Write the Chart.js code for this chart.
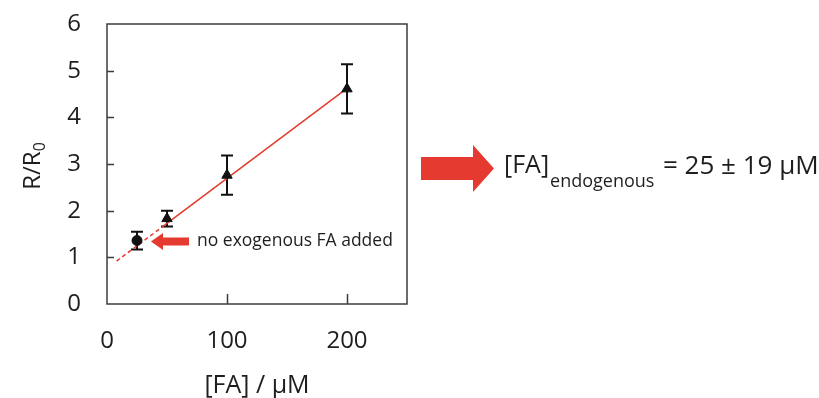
<!DOCTYPE html>
<html>
<head>
<meta charset="utf-8">
<script src="https://cdn.jsdelivr.net/npm/chart.js@4"></script>
<style>
  html, body { margin: 0; padding: 0; background: #fff; }
  #chart { display: block; }
</style>
</head>
<body>
<canvas id="chart" width="819" height="398"></canvas>
<script>
// measured points (R/R0 vs added FA)
const faConc = [25, 50, 100, 200];
const ratio = [1.36, 1.83, 2.76, 4.61];
const ratioErr = [0.19, 0.17, 0.42, 0.53];
const markerStyles = ["circle", "triangle", "triangle", "triangle"];
const markerSizes = [5, 6, 6, 6];

// linear fit, dashed part extrapolated below the lowest point
const fitX = [8, 48, 200];
const fitY = [0.92, 1.69, 4.62];

const xTickValues = [0, 100, 200];
const yTickValues = [0, 1, 2, 3, 4, 5, 6];

const FONT = "'Open Sans', 'Liberation Sans', sans-serif";
const TEXT = "#1e1e1e";
const RED = "#e53a2f";
const FRAME = "#3c3c3c";

const annotations = {
  id: "annotations",
  beforeDatasetsDraw(chart) {
    const { ctx } = chart;
    const xs = chart.scales.x, ys = chart.scales.y;
    // error bars
    ctx.save();
    ctx.strokeStyle = "#111";
    ctx.lineWidth = 2;
    faConc.forEach((x, i) => {
      const px = xs.getPixelForValue(x);
      const top = ys.getPixelForValue(ratio[i] + ratioErr[i]);
      const bot = ys.getPixelForValue(ratio[i] - ratioErr[i]);
      ctx.beginPath();
      ctx.moveTo(px, top); ctx.lineTo(px, bot);
      ctx.moveTo(px - 6, top); ctx.lineTo(px + 6, top);
      ctx.moveTo(px - 6, bot); ctx.lineTo(px + 6, bot);
      ctx.stroke();
    });
    ctx.restore();
  },
  afterDraw(chart) {
    const { ctx, chartArea: a } = chart;
    const xs = chart.scales.x, ys = chart.scales.y;
    ctx.save();

    // frame + inner ticks
    ctx.strokeStyle = FRAME;
    ctx.lineWidth = 1.5;
    ctx.strokeRect(a.left, a.top, a.right - a.left, a.bottom - a.top);
    ctx.beginPath();
    yTickValues.slice(1, -1).forEach(v => {
      const py = Math.round(ys.getPixelForValue(v)) + 0.5;
      ctx.moveTo(a.left, py); ctx.lineTo(a.left + 7, py);
    });
    xTickValues.slice(1).forEach(v => {
      const px = Math.round(xs.getPixelForValue(v)) + 0.5;
      ctx.moveTo(px, a.bottom); ctx.lineTo(px, a.bottom - 10);
    });
    ctx.stroke();

    ctx.fillStyle = TEXT;

    // x title
    ctx.font = `25px ${FONT}`;
    ctx.textAlign = "center";
    ctx.textBaseline = "alphabetic";
    ctx.fillText("[FA] / μM", (a.left + a.right) / 2, 393);

    // y title with subscript
    ctx.save();
    ctx.translate(40, 166);
    ctx.rotate(-Math.PI / 2);
    ctx.textAlign = "left";
    ctx.font = `24px ${FONT}`;
    const main = "R/R";
    const wMain = ctx.measureText(main).width;
    ctx.font = `16px ${FONT}`;
    const wSub = ctx.measureText("0").width;
    const start = -(wMain + wSub) / 2;
    ctx.font = `24px ${FONT}`;
    ctx.fillText(main, start, 0);
    ctx.font = `16px ${FONT}`;
    ctx.fillText("0", start + wMain, 5);
    ctx.restore();

    // small arrow pointing at the first point
    ctx.fillStyle = RED;
    ctx.beginPath();
    ctx.moveTo(151, 241.5);
    ctx.lineTo(163, 233);
    ctx.lineTo(163, 237.5);
    ctx.lineTo(189, 237.5);
    ctx.lineTo(189, 245.5);
    ctx.lineTo(163, 245.5);
    ctx.lineTo(163, 250);
    ctx.closePath();
    ctx.fill();
    ctx.fillStyle = TEXT;
    ctx.font = `17.5px ${FONT}`;
    ctx.textAlign = "left";
    ctx.textBaseline = "middle";
    ctx.fillText("no exogenous FA added", 197, 241);

    // big arrow + result
    ctx.fillStyle = RED;
    ctx.beginPath();
    ctx.moveTo(421, 157);
    ctx.lineTo(473, 157);
    ctx.lineTo(473, 145);
    ctx.lineTo(494, 168.5);
    ctx.lineTo(473, 192);
    ctx.lineTo(473, 180);
    ctx.lineTo(421, 180);
    ctx.closePath();
    ctx.fill();

    ctx.fillStyle = TEXT;
    ctx.textBaseline = "alphabetic";
    ctx.font = `25px ${FONT}`;
    ctx.fillText("[FA]", 504, 173);
    const wFA = ctx.measureText("[FA]").width;
    ctx.font = `18px ${FONT}`;
    ctx.fillText("endogenous", 504 + wFA + 1, 187);
    ctx.font = `26px ${FONT}`;
    ctx.fillText("= 25 ± 19 μM", 663, 174);

    ctx.restore();
  }
};

new Chart(document.getElementById("chart"), {
  type: "scatter",
  data: {
    datasets: [
      {
        label: "R/R0",
        data: faConc.map((x, i) => ({ x, y: ratio[i] })),
        pointStyle: markerStyles,
        pointRadius: markerSizes,
        pointBackgroundColor: "#111",
        pointBorderColor: "#111",
        pointBorderWidth: 1,
        showLine: false
      },
      {
        label: "fit",
        type: "line",
        data: fitX.map((x, i) => ({ x, y: fitY[i] })),
        borderColor: RED,
        borderWidth: 1.5,
        pointRadius: 0,
        fill: false,
        tension: 0,
        segment: {
          borderDash: c => (c.p0DataIndex === 0 ? [4, 3] : undefined)
        }
      }
    ]
  },
  options: {
    responsive: false,
    animation: false,
    devicePixelRatio: 1,
    layout: { padding: { left: 0, top: 24, right: 412, bottom: 0 } },
    plugins: { legend: { display: false }, tooltip: { enabled: false } },
    scales: {
      x: {
        type: "linear",
        min: 0,
        max: 250,
        afterBuildTicks: s => { s.ticks = xTickValues.map(v => ({ value: v })); },
        afterFit: s => { s.height = 94; s.paddingLeft = 0; s.paddingRight = 0; },
        grid: { display: false, drawTicks: false },
        border: { display: false },
        ticks: { color: TEXT, font: { family: FONT, size: 24 }, padding: 23, maxRotation: 0 }
      },
      y: {
        type: "linear",
        min: 0,
        max: 6,
        afterBuildTicks: s => { s.ticks = yTickValues.map(v => ({ value: v })); },
        afterFit: s => { s.width = 107; s.paddingTop = 0; s.paddingBottom = 0; },
        grid: { display: false, drawTicks: false },
        border: { display: false },
        ticks: { color: TEXT, font: { family: FONT, size: 24 }, padding: 26 }
      }
    }
  },
  plugins: [annotations]
});
</script>
</body>
</html>
